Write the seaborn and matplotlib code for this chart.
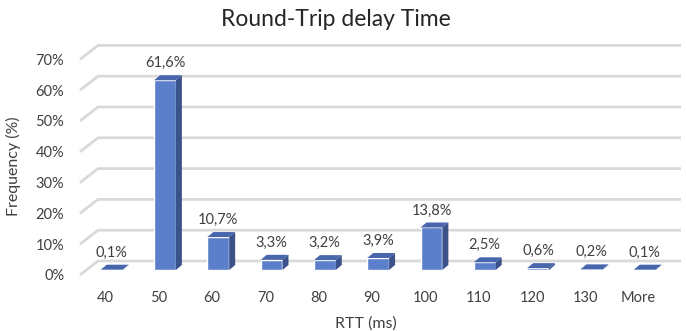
import matplotlib
matplotlib.use("Agg")
import matplotlib.pyplot as plt
from matplotlib.patches import Polygon
from matplotlib.transforms import ScaledTranslation
import pandas as pd
import seaborn as sns

# data
categories = ["40", "50", "60", "70", "80", "90", "100", "110", "120", "130", "More"]
frequency = [0.1, 61.6, 10.7, 3.3, 3.2, 3.9, 13.8, 2.5, 0.6, 0.2, 0.1]
labels = ["0,1%", "61,6%", "10,7%", "3,3%", "3,2%", "3,9%", "13,8%", "2,5%", "0,6%", "0,2%", "0,1%"]
yticks = [0, 10, 20, 30, 40, 50, 60, 70]

df = pd.DataFrame({"rtt": categories, "freq": frequency})

sns.set_style("white")
plt.rcParams["font.family"] = ["Lato", "DejaVu Sans"]

W, H = 686, 331
fig = plt.figure(figsize=(W / 100, H / 100), dpi=100)
ax = fig.add_axes([85 / W, (H - 270) / H, 586.3 / W, 215.6 / H])

front = "#5B7FCA"
side = "#3A5189"
top = "#4766AC"
grid = "#D9D9D9"
text_c = "#404040"

sns.barplot(data=df, x="rtt", y="freq", order=categories, color=front,
            width=0.41, saturation=1, ax=ax, zorder=3)
ax.set_xlim(-0.5, 10.5)
ax.set_ylim(0, 70)

# pixel -> data unit conversions for the fake 3D depth
px_x = 11 / 586.3
px_y = 70 / 215.6
dx, dy = 6 * px_x, 5 * px_y

for p in ax.patches:
    x0, w, h = p.get_x(), p.get_width(), p.get_height()
    x1 = x0 + w
    ax.add_patch(Polygon([(x1, 0), (x1 + dx, dy), (x1 + dx, h + dy), (x1, h)],
                         closed=True, facecolor=side, edgecolor="none", zorder=3))
    ax.add_patch(Polygon([(x0, h), (x1, h), (x1 + dx, h + dy), (x0 + dx, h + dy)],
                         closed=True, facecolor=top, edgecolor="none", zorder=3))

# back wall gridlines with the floor diagonal
gx0 = -0.5 + (80 - 85) * px_x
gx1 = -0.5 + (98 - 85) * px_x
gx2 = -0.5 + (681 - 85) * px_x
for t in yticks:
    yf = t - 5 * px_y
    yb = t + 9 * px_y
    ax.plot([gx0, gx1, gx2], [yf, yb, yb], color=grid, lw=2,
            clip_on=False, zorder=1, solid_capstyle="butt")

# data labels
for i, (v, lab) in enumerate(zip(frequency, labels)):
    ax.annotate(lab, (i, v + dy), xytext=(0, 12), textcoords="offset pixels",
                ha="center", va="center", fontsize=10.5, color=text_c)

ax.set_yticks(yticks)
ax.set_yticklabels([f"{t}%" for t in yticks])
ax.tick_params(axis="both", length=0, labelsize=10.5, labelcolor=text_c)
ax.tick_params(axis="y", pad=15)
ax.tick_params(axis="x", pad=15)
for lab in ax.get_yticklabels():
    lab.set_transform(lab.get_transform() + ScaledTranslation(0, -5 / 100, fig.dpi_scale_trans))
for lab in ax.get_xticklabels():
    lab.set_transform(lab.get_transform() + ScaledTranslation(-6 / 100, 0, fig.dpi_scale_trans))

sns.despine(ax=ax, left=True, bottom=True)
ax.grid(False)
ax.set_xlabel("RTT (ms)", fontsize=11.5, color=text_c, labelpad=4)
ax.xaxis.set_label_coords((366 - 85) / 586.3, -(316 - 270) / 215.6)
ax.set_ylabel("Frequency (%)", fontsize=11.5, color=text_c)
ax.yaxis.set_label_coords(-(85 - 21) / 586.3, (270 - 166) / 215.6)
fig.text(336 / W, 1 - 20 / H, "Round-Trip delay Time", ha="center", va="center",
         fontsize=16.5, color="#262626")

fig.savefig("out.png", dpi=100)
